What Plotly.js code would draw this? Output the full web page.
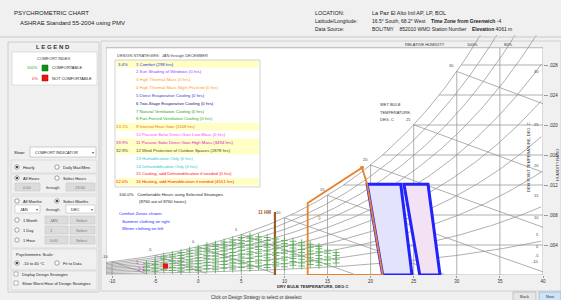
<!DOCTYPE html>
<html><head><meta charset="utf-8">
<script src="https://cdn.plot.ly/plotly-3.0.1.min.js"></script>
<style>html,body{margin:0;padding:0;background:#f0f0f0;overflow:hidden}#chart{width:561px;height:300px}</style>
</head><body><div id="chart"></div><script>
// ---------------- data ----------------
const dryBulbTicks = [-10,-5,0,5,10,15,20,25,30,35,40];
const humidityRatioTicks = [0.004,0.008,0.012,0.016,0.020,0.024,0.028];
const humidityRatioLabels = ['.004','.008','.012','.016','.020','.024','.028'];
const rhLevels = [0.1,0.2,0.3,0.4,0.5,0.6,0.7,0.8,0.9,1.0];
const wetBulbLevels = [-10,-5,0,5,10,15,20,25,30,35];
const wetBulbLabels = [-10,-5,0,5,10,15,20,25,30];
const dewPointLabels = [-10,-5,0,5,10,15,20,25,30];

const winterZoneT = [21.4,24.8,23.5,19.6,21.4];
const winterZoneW = [0,0,0.0121,0.0121,0];
const summerZoneT = [25.7,28.05,26.66,23.87,25.7];
const summerZoneW = [0,0,0.0121,0.0121,0];
const heatGainZoneT = [21.4,12.7,12.7,19.0,19.6,21.4];
const heatGainZoneW = [0,0,0.0096,0.0143,0.0121,0];
const passiveSolarT = [8.9,8.9];
const passiveSolarW = [0,0.0084];

const hourlyDryBulb = [-6,-5,-4,-3,-2,-1,0,1,2,3,4,5,6,7,8,9,10,11,12,13,14,15,16];
const hourlyHumRatio = [
 [0.0006,0.0011,0.0015],
 [0.0005,0.0009,0.0014,0.0018],
 [0.0007,0.0012,0.0016,0.0021,0.0025],
 [0.0006,0.0010,0.0015,0.0019,0.0024,0.0027],
 [0.0005,0.0009,0.0013,0.0018,0.0022,0.0026,0.0030],
 [0.0007,0.0012,0.0016,0.0020,0.0025,0.0029,0.0033],
 [0.0006,0.0010,0.0015,0.0019,0.0023,0.0028,0.0032,0.0036],
 [0.0008,0.0013,0.0017,0.0022,0.0026,0.0031,0.0035,0.0039],
 [0.0007,0.0011,0.0016,0.0020,0.0025,0.0029,0.0034,0.0038,0.0041],
 [0.0009,0.0014,0.0018,0.0023,0.0027,0.0032,0.0036,0.0040,0.0044],
 [0.0008,0.0012,0.0017,0.0021,0.0026,0.0030,0.0035,0.0039,0.0043,0.0047],
 [0.0010,0.0015,0.0019,0.0024,0.0028,0.0033,0.0037,0.0042,0.0046,0.0050],
 [0.0009,0.0013,0.0018,0.0022,0.0027,0.0031,0.0036,0.0040,0.0045,0.0049,0.0052],
 [0.0011,0.0016,0.0020,0.0025,0.0029,0.0034,0.0038,0.0043,0.0047,0.0051],
 [0.0010,0.0014,0.0019,0.0023,0.0028,0.0032,0.0037,0.0041,0.0046,0.0050],
 [0.0012,0.0017,0.0021,0.0026,0.0030,0.0035,0.0039,0.0044,0.0048],
 [0.0011,0.0015,0.0020,0.0024,0.0029,0.0033,0.0038,0.0042,0.0046],
 [0.0013,0.0018,0.0022,0.0027,0.0031,0.0036,0.0040,0.0045],
 [0.0012,0.0016,0.0021,0.0025,0.0030,0.0034,0.0039,0.0043],
 [0.0014,0.0019,0.0023,0.0028,0.0032,0.0037,0.0041],
 [0.0013,0.0017,0.0022,0.0026,0.0031,0.0035,0.0038],
 [0.0015,0.0020,0.0024,0.0029,0.0033],
 [0.0016,0.0021,0.0026,0.0030]
];
const notComfortT = [-3.8];
const notComfortW = [0.0012];

const strategyNames = ['Comfort','Sun Shading of Windows','High Thermal Mass','High Thermal Mass Night Flushed',
 'Direct Evaporative Cooling','Two-Stage Evaporative Cooling','Natural Ventilation Cooling','Fan-Forced Ventilation Cooling',
 'Internal Heat Gain','Passive Solar Direct Gain Low Mass','Passive Solar Direct Gain High Mass','Wind Protection of Outdoor Spaces',
 'Humidification Only','Dehumidification Only','Cooling, add Dehumidification if needed','Heating, add Humidification if needed'];
const strategyHours = [298,0,0,0,0,0,0,0,1148,0,3494,2878,0,0,0,4551];
const strategyPct = ['3.4%','','','','','','','','13.1%','','39.9%','32.9%','','','','52.0%'];
const strategyColors = ['#2a2aff','#9a3cff','#ff9a1a','#ff9a1a','#3a3acc','#14146e','#2f9a2f','#22b022',
 '#e07a10','#ff40ff','#d020d0','#4a4a10','#20c8c8','#20c8c8','#ff1010','#ff1010'];

// ---------------- psychrometrics (chart grid) ----------------
const P = 101.325, WTOP = 0.0303, TMIN = -10.7, TMAX = 40;
const psat = t => 0.61094*Math.exp(17.625*t/(t+243.04));
const wsat = t => { const p = psat(t); return 0.622*p/(P-p); };
const wRH = (t,rh) => { const p = rh*psat(t); return 0.622*p/(P-p); };
const tdew = w => { const pv = w*P/(0.622+w); const a = Math.log(pv/0.61094); return 243.04*a/(17.625-a); };
const wWB = (t,twb) => { const ws = wsat(twb); return ((2501-2.326*twb)*ws-1.006*(t-twb))/(2501+1.86*t-4.186*twb); };

const gx = [], gy = [];
dryBulbTicks.forEach(t => { if (t >= TMAX) return; gx.push(t,t,null); gy.push(0,Math.min(wsat(t),WTOP),null); });
humidityRatioTicks.forEach(w => { gx.push(tdew(w),TMAX,null); gy.push(w,w,null); });
rhLevels.forEach(rh => {
  for (let t = TMIN; t <= TMAX+0.01; t += 0.25) { const w = wRH(t,rh); gx.push(t); gy.push(w); if (w > 0.0325) break; }
  gx.push(null); gy.push(null);
});
wetBulbLevels.forEach(twb => {
  for (let t = twb; t <= TMAX+0.01; t += 0.5) { const w = wWB(t,twb); if (w < 0) break; gx.push(t); gy.push(w); }
  gx.push(null); gy.push(null);
});

const hx = [], hy = [];
hourlyDryBulb.forEach((t,i) => hourlyHumRatio[i].forEach(w => { hx.push(t); hy.push(w); }));

const FONT = 'Liberation Sans, Arial, sans-serif';
const traces = [
  {x:gx,y:gy,mode:'lines',line:{color:'#8c8c8c',width:0.7},hoverinfo:'skip'},
  {x:winterZoneT,y:winterZoneW,mode:'lines',fill:'toself',fillcolor:'#e3e3fb',line:{color:'#2222ff',width:3}},
  {x:summerZoneT,y:summerZoneW,mode:'lines',fill:'toself',fillcolor:'#f3e2f4',line:{color:'#2222ff',width:3}},
  {x:heatGainZoneT,y:heatGainZoneW,mode:'lines',line:{color:'#e8822e',width:1.8}},
  {x:[heatGainZoneT[3]],y:[heatGainZoneW[3]],mode:'markers',marker:{color:'#e8822e',size:4}},
  {x:passiveSolarT,y:passiveSolarW,mode:'lines',line:{color:'#9a5a2a',width:2.2}},
  {x:hx,y:hy,mode:'markers',marker:{symbol:'cross-thin',size:5,line:{color:'#5cb05c',width:0.9}}},
  {x:notComfortT,y:notComfortW,mode:'markers',marker:{symbol:'square',size:5,color:'#ee1111'}}
];

// ---------------- helpers for panel layout ----------------
const PX = x => (x-106)/437, PY = y => (275-y)/240;
const ann = [], shp = [];
function T(x,y,text,size,color,anchor,extra){
  ann.push(Object.assign({xref:'paper',yref:'paper',x:PX(x),y:PY(y),text:text,showarrow:false,
    xanchor:anchor||'left',yanchor:'middle',font:{family:FONT,size:size||4.5,color:color||'#222'}},extra||{}));
}
function R(x0,y0,x1,y1,fill,line,lw,layer){
  shp.push({type:'rect',xref:'paper',yref:'paper',x0:PX(x0),x1:PX(x1),y0:PY(y1),y1:PY(y0),
    fillcolor:fill||'rgba(0,0,0,0)',line:{color:line||'rgba(0,0,0,0)',width:lw===undefined?0.6:lw},layer:layer||'below'});
}
function C(x,y,filled){
  shp.push({type:'circle',xref:'paper',yref:'paper',x0:PX(x-2.2),x1:PX(x+2.2),y0:PY(y+2.2),y1:PY(y-2.2),
    fillcolor:'#fff',line:{color:'#666',width:0.6},layer:'above'});
  if (filled) shp.push({type:'circle',xref:'paper',yref:'paper',x0:PX(x-1.1),x1:PX(x+1.1),y0:PY(y+1.1),y1:PY(y-1.1),
    fillcolor:'#222',line:{width:0},layer:'above'});
}

// header
T(12,13,'PSYCHROMETRIC CHART',6,'#222');
T(18,23,'ASHRAE Standard 55-2004 using PMV',6,'#222');
T(313,13,'LOCATION:',5.5,'#222');
T(313,21,'Latitude/Longitude:',5,'#222');
T(313,29,'Data Source:',5,'#222');
T(370,13,'La Paz El Alto Intl AP, LP, BOL',5.5,'#222');
T(370,21,'16.5° South, 68.2° West    <b>Time Zone from Greenwich</b> -4',5,'#222');
T(370,29,'BOL/TMY    852010 WMO Station Number    <b>Elevation</b> 4061 m',5,'#222');
shp.push({type:'line',xref:'paper',yref:'paper',x0:PX(0),x1:PX(561),y0:PY(37),y1:PY(37),line:{color:'#c8c8c8',width:1}});

// left panel
R(8,42,99,292,'#f0f0f0','#c4c4c4',0.8);
T(53,47,'<b>L E G E N D</b>',6,'#333','center');
R(12,52,97,85,'#ffffff','#cfcfcf',0.6);
T(54,59,'COMFORT INDEX',4,'#333','center');
T(40,68,'100%',4,'#2a9a2a','right');
R(42,65,48,71,'#129012','#0a600a',0.5,'above');
T(50,68,'COMFORTABLE',4,'#222');
T(40,78,'0%',4,'#ee2222','right');
R(42,75,48,81,'#ee1111','#a00000',0.5,'above');
T(50,78,'NOT COMFORTABLE',4,'#222');
T(12,152,'Show:',4,'#222');
R(30,147,96,157,'#ffffff','#b0b0b0',0.6);
T(33,152,'COMFORT INDICATOR',4,'#222');
T(93,152,'▾',4,'#555','center');
R(11,160,97,173,'rgba(0,0,0,0)','#d0d0d0',0.6);
C(17,167,true); T(21,167,'Hourly',4); C(57,167,false); T(61,167,'Daily Max/Mins',4);
R(11,174,97,194,'rgba(0,0,0,0)','#d0d0d0',0.6);
C(17,178,true); T(21,178,'All Hours',4); C(57,178,false); T(61,178,'Select Hours',4);
R(15,183,40,191,'#dcdcdc','#c0c0c0',0.5); T(27,187,'0:00',4,'#777','center');
T(53,187,'through',4,'#333','center');
R(66,183,95,191,'#dcdcdc','#c0c0c0',0.5); T(80,187,'23:00',4,'#777','center');
R(11,196,97,248,'rgba(0,0,0,0)','#d0d0d0',0.6);
C(17,201,false); T(21,201,'All Months',4); C(57,201,true); T(61,201,'Select Months',4);
R(15,205,40,213,'#ffffff','#b0b0b0',0.5); T(18,209,'JAN',4); T(37,209,'▾',4,'#555','center');
T(53,209,'through',4,'#333','center');
R(66,205,95,213,'#ffffff','#b0b0b0',0.5); T(69,209,'DEC',4); T(92,209,'▾',4,'#555','center');
C(17,220,false); T(21,220,'1 Month',4);
R(45,216,68,224,'#dcdcdc','#c0c0c0',0.5); T(48,220,'JAN',4,'#777'); R(70,216,95,224,'#dcdcdc','#c0c0c0',0.5); T(82,220,'Select',4,'#777','center');
C(17,230,false); T(21,230,'1 Day',4);
R(45,226,68,234,'#dcdcdc','#c0c0c0',0.5); T(48,230,'1',4,'#777'); R(70,226,95,234,'#dcdcdc','#c0c0c0',0.5); T(82,230,'Select',4,'#777','center');
C(17,240,false); T(21,240,'1 Hour',4);
R(45,236,68,244,'#dcdcdc','#c0c0c0',0.5); T(48,240,'0:00',4,'#777'); R(70,236,95,244,'#dcdcdc','#c0c0c0',0.5); T(82,240,'Select',4,'#777','center');
R(11,249,97,270,'rgba(0,0,0,0)','#d0d0d0',0.6);
T(14,254,'Psychrometric Scale:',4);
C(17,263,true); T(21,263,'-10 to 40 °C',4); C(57,263,false); T(61,263,'Fit to Data',4);
R(11,271,97,290,'rgba(0,0,0,0)','#d0d0d0',0.6);
R(14,272,18,276,'#ffffff','#777',0.5,'above'); T(20,274,'Display Design Strategies',4);
R(14,281,18,285,'#ffffff','#777',0.5,'above'); T(20,283,'Show Worst Hour of Design Strategies',4);

// main panel frame + white chart area
R(101,41,561,291,'rgba(0,0,0,0)','#c8c8c8',0.8);
shp.push({type:'rect',xref:'x',yref:'y',x0:TMIN,x1:TMAX,y0:0,y1:WTOP,fillcolor:'#ffffff',line:{color:'#9a9a9a',width:0.7},layer:'below'});

// design strategies box (drawn above the white chart area)
T(115,55,'DESIGN STRATEGIES:  JAN through DECEMBER',4,'#444');
strategyNames.forEach((n,i) => {
  const y = 64 + i*7.85;
  if (strategyPct[i]) R(116,y-3.8,259,y+3.8,'#ffffc4',null,0,'above');
  if (strategyPct[i]) T(130,y,strategyPct[i],4.3,strategyColors[i],'right');
  T(134,y,(i+1)+' '+n+' ('+strategyHours[i]+' hrs)',4.3,strategyColors[i]);
});
R(115,60,260,187,'rgba(0,0,0,0)','#b5b5b5',0.6,'above');
T(117,194,'100.0%   Comfortable Hours using Selected Strategies',4.3,'#222');
T(137,201,'(8760 out of 8760 hours)',4.3,'#222');
T(117,213,'Comfort Zones shown:',4.3,'#2a2aff');
T(120,221,'Summer clothing on right',4.3,'#2a2aff');
T(120,228,'Winter clothing on left',4.3,'#2a2aff');

// chart labels
T(425,44.5,'RELATIVE HUMIDITY',4,'#333','center');
T(472,44.5,'100%',4,'#333','center');
T(508,44.5,'80%',4,'#333','center');
T(378,105,'WET BULB',4,'#333');
T(378,112,'TEMPERATURE,',4,'#333');
T(378,119,'DEG. C',4,'#333');
T(528,157,'DEW POINT TEMPERATURE, DEG. C',4,'#333','center',{textangle:-90});
T(557,165,'HUMIDITY RATIO',4,'#333','center',{textangle:-90});
T(313,286,'<b>DRY BULB TEMPERATURE, DEG C</b>',4.3,'#333','center');
T(273,212,'<b>11 HM</b>',4.5,'#9a5a2a','right');
T(319,218,'9',5,'#e8822e','center');
T(137,262,'1',4.5,'#cc33cc','center');
T(141,269,'2-3',4.5,'#cc33cc','center');
wetBulbLabels.forEach(v => ann.push({xref:'x',yref:'y',x:v,y:wsat(v),text:String(v),showarrow:false,
  xanchor:'right',yanchor:'bottom',xshift:-1,yshift:1,font:{family:FONT,size:4,color:'#444'}}));
dewPointLabels.forEach(v => ann.push({xref:'x',yref:'y',x:TMAX,y:wsat(v),text:String(v),showarrow:false,
  xanchor:'right',yanchor:'middle',xshift:-2,font:{family:FONT,size:4,color:'#444'}}));

// bottom bar
T(256,297,'Click on Design Strategy to select or deselect',4.5,'#333','center');
R(513,292,536,301,'#e6e6e6','#aaaaaa',0.6,'above'); T(524.5,296.5,'Back',4,'#333','center');
R(539,292,561,301,'#cfe3f7','#7aa7d8',0.6,'above'); T(550,296.5,'Next',4,'#333','center');

const layout = {
  width:561,height:300,margin:{l:106,r:18,t:35,b:25},
  paper_bgcolor:'#f0f0f0',plot_bgcolor:'rgba(0,0,0,0)',showlegend:false,hovermode:false,
  font:{family:FONT,size:4.5,color:'#333'},
  xaxis:{range:[TMIN,TMAX],tickvals:dryBulbTicks,ticktext:dryBulbTicks.map(String),showgrid:false,zeroline:false,
    ticks:'outside',ticklen:2,tickcolor:'#999',tickfont:{size:4.5,color:'#333'},showline:false,fixedrange:true},
  yaxis:{range:[0,0.032],side:'right',tickvals:humidityRatioTicks,ticktext:humidityRatioLabels,showgrid:false,zeroline:false,
    ticks:'outside',ticklen:4,tickcolor:'#999',tickfont:{size:4.5,color:'#333'},showline:false,fixedrange:true},
  shapes:shp,annotations:ann
};
Plotly.newPlot('chart',traces,layout,{staticPlot:true,displayModeBar:false});
</script></body></html>
